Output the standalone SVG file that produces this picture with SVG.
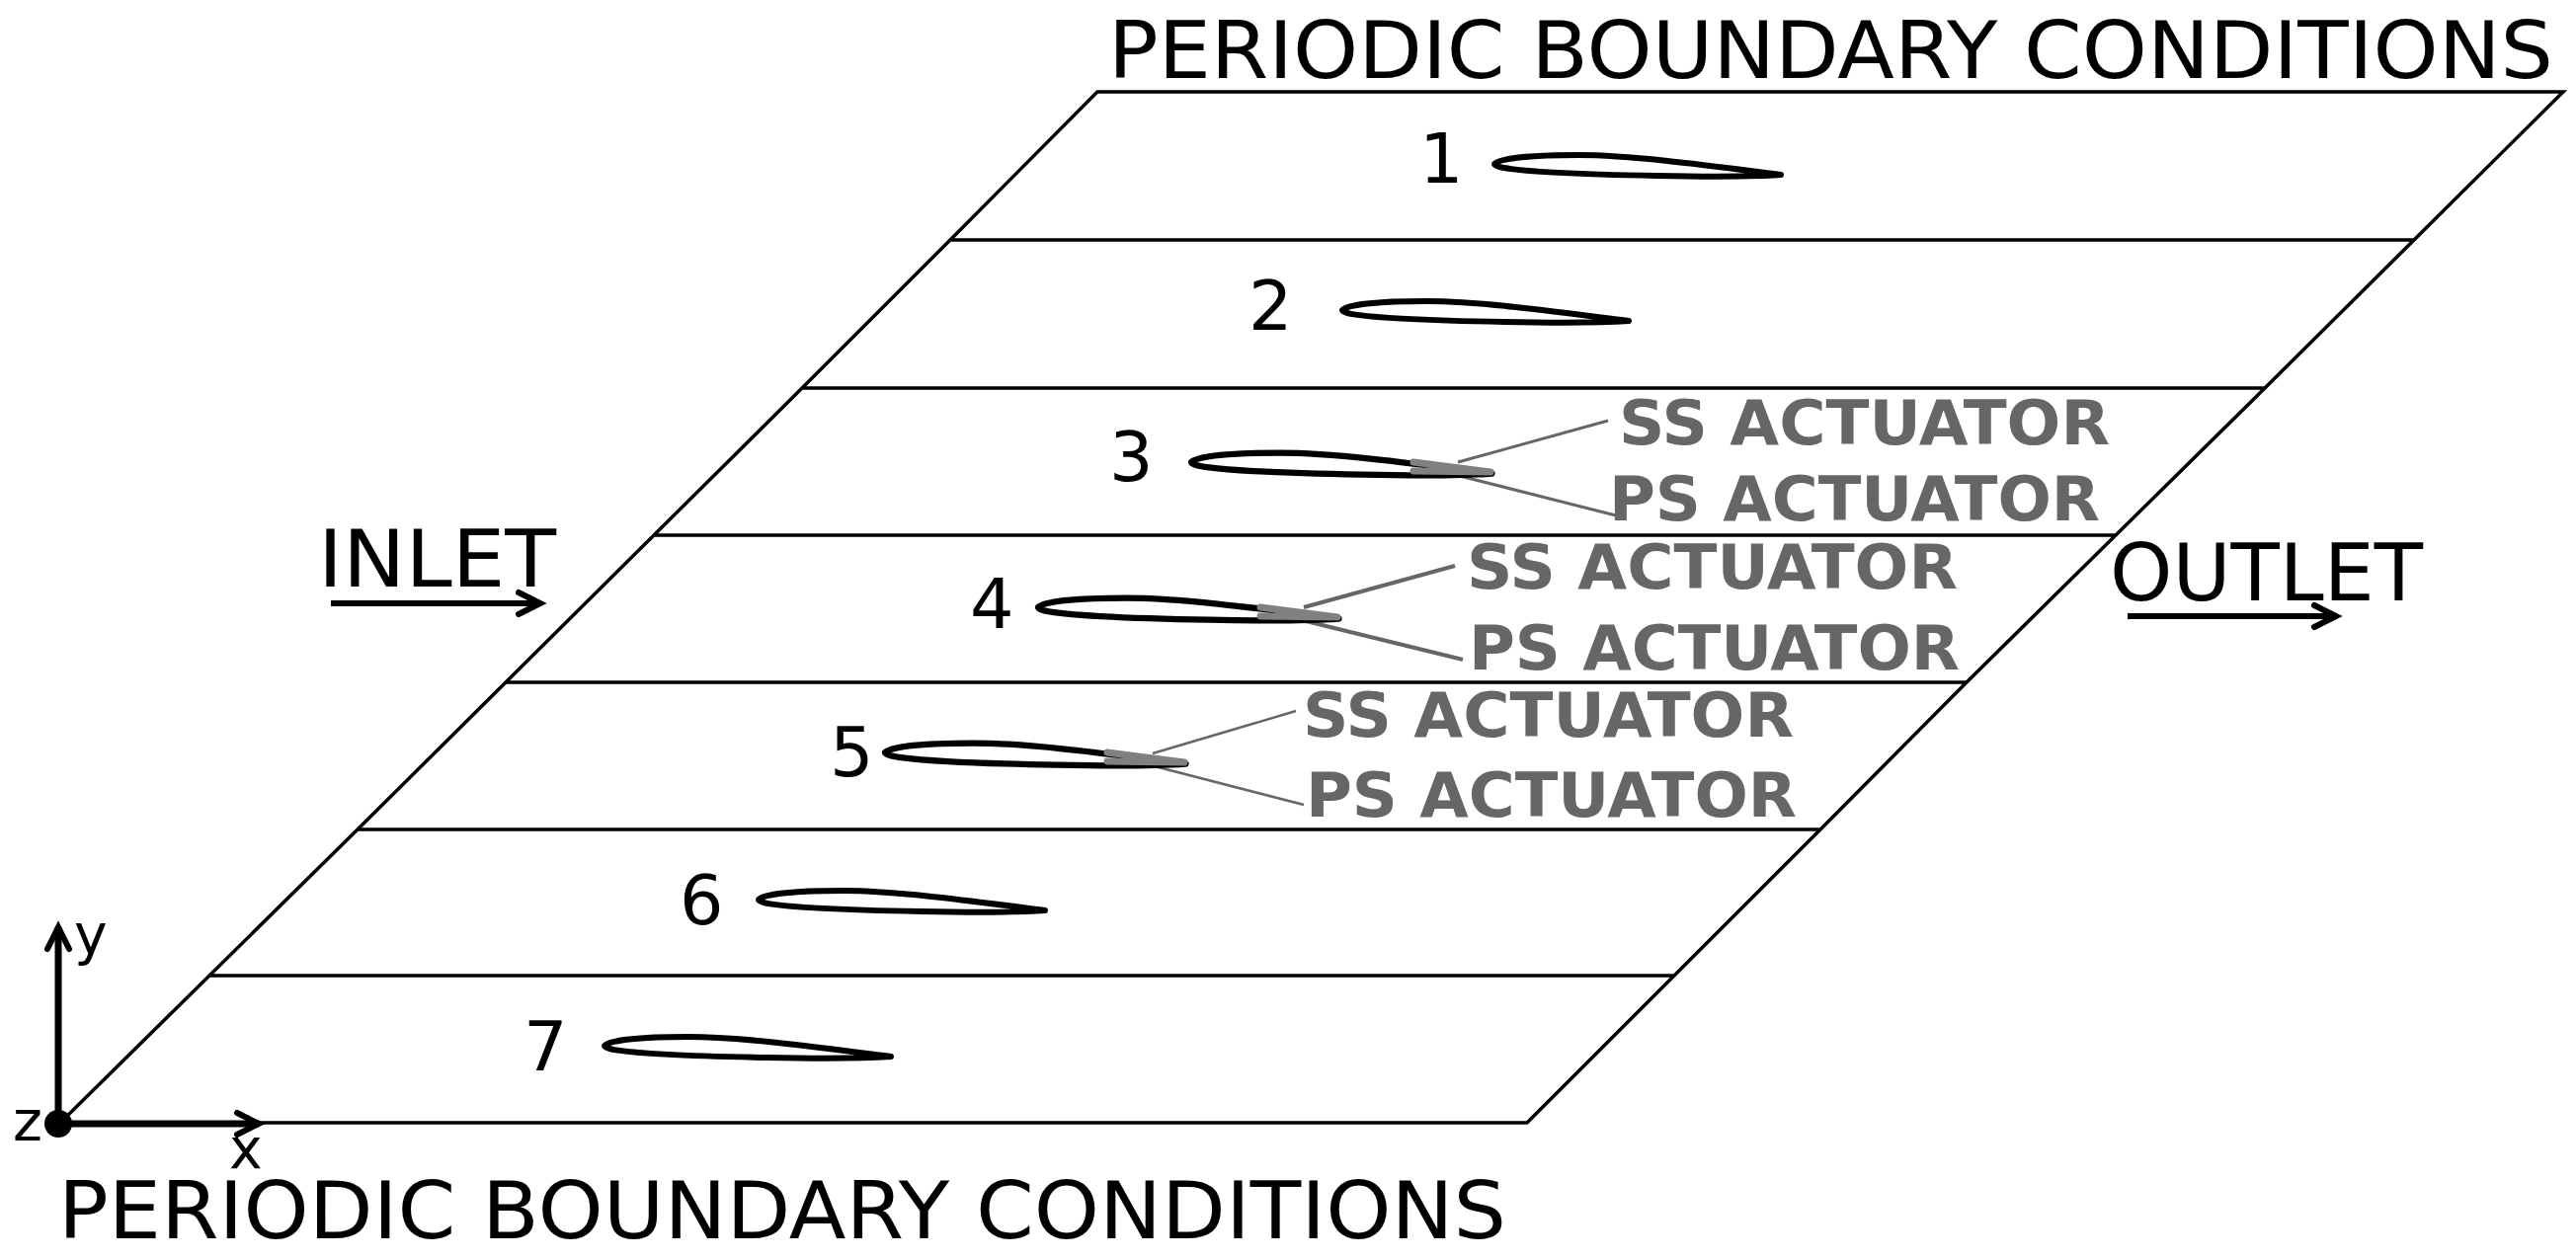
<svg xmlns="http://www.w3.org/2000/svg" width="2608" height="1275" viewBox="0 0 2608 1275">
<style>
text{font-family:"DejaVu Sans",sans-serif;fill:#000}
.t,.f{font-size:81px}.n{font-size:70px}.a{font-size:57px}
.act{font-size:63px;font-weight:bold;fill:#666}
.l{stroke:#000;stroke-width:3.5;fill:none}
.ax{stroke:#000;stroke-width:7;fill:none;marker-end:url(#h)}
.fl{stroke:#000;stroke-width:6;fill:none;marker-end:url(#h)}
.foil{stroke:#000;fill:none;stroke-width:6;stroke-linecap:round;stroke-linejoin:round}
.g{stroke:#808080;stroke-width:7;fill:none;stroke-linecap:round}
.lead{stroke:#666;fill:none}
</style>
<defs>
<marker id="h" markerUnits="userSpaceOnUse" markerWidth="40" markerHeight="40" refX="30" refY="20" orient="auto" overflow="visible"><path d="M8,9L30,20L8,31" fill="none" stroke="#000" stroke-width="6" stroke-linecap="round"/></marker>
<path id="foil" d="M0,0C6,-6 40,-9 85,-9C140,-9 220,2 290,11C260,13 210,13 165,12C105,11 0,8 0,0Z"/>
<g id="act"><path d="M225,0L303,10M225,9L303,10"/></g>
</defs>
<g id="domain">
<path class="l" d="M61,1137L212,988L362,840L512,691L662,542L812,393L962,243L1111,93H2595L2444,243L2293,393L2142,542L1991,691L1843,840L1695,988L1546,1137ZM212,988H1695M362,840H1843M512,691H1991M662,542H2142M812,393H2293M962,243H2444"/>
</g>
<g id="connectors">
<path class="lead" stroke-width="3" d="M1476,468L1628,426M1470,480L1636,522"/>
<path class="lead" stroke-width="4" d="M1320,615L1473,573M1314,627L1481,668"/>
<path class="lead" stroke-width="2.5" d="M1167,763L1312,720M1165,775L1320,815"/>
<path class="fl" d="M335,611H547"/>
<path class="fl" d="M2154,624H2365"/>
<path class="ax" d="M59,1138V939"/>
<path class="ax" d="M59,1138H262"/>
</g>
<g id="foil1"><use href="#foil" class="foil" x="1513" y="166"/><text class="n" x="1437" y="185">1</text></g>
<g id="foil2"><use href="#foil" class="foil" x="1359" y="314"/><text class="n" x="1264" y="334">2</text></g>
<g id="foil3"><use href="#foil" class="foil" transform="translate(1206 468) scale(1.05)"/><use href="#act" class="g" x="1206" y="468"/><text class="n" x="1123" y="487">3</text></g>
<g id="foil4"><use href="#foil" class="foil" transform="translate(1051 615) scale(1.05)"/><use href="#act" class="g" x="1051" y="615"/><text class="n" x="982" y="636">4</text></g>
<g id="foil5"><use href="#foil" class="foil" transform="translate(896 762) scale(1.05)"/><use href="#act" class="g" x="896" y="762"/><text class="n" x="840" y="786">5</text></g>
<g id="foil6"><use href="#foil" class="foil" x="768" y="911"/><text class="n" x="688" y="936">6</text></g>
<g id="foil7"><use href="#foil" class="foil" x="612" y="1059"/><text class="n" x="530" y="1084">7</text></g>
<g id="labels">
<text class="act" x="1639" y="450" textLength="497" lengthAdjust="spacingAndGlyphs">SS ACTUATOR</text>
<text class="act" x="1629" y="527" textLength="497" lengthAdjust="spacingAndGlyphs">PS ACTUATOR</text>
<text class="act" x="1485" y="596" textLength="497" lengthAdjust="spacingAndGlyphs">SS ACTUATOR</text>
<text class="act" x="1487" y="678" textLength="497" lengthAdjust="spacingAndGlyphs">PS ACTUATOR</text>
<text class="act" x="1319" y="746" textLength="497" lengthAdjust="spacingAndGlyphs">SS ACTUATOR</text>
<text class="act" x="1322" y="827" textLength="497" lengthAdjust="spacingAndGlyphs">PS ACTUATOR</text>
<text class="t" x="1122" y="79" textLength="1463" lengthAdjust="spacingAndGlyphs">PERIODIC BOUNDARY CONDITIONS</text>
<text class="t" x="59" y="1254" textLength="1466" lengthAdjust="spacingAndGlyphs">PERIODIC BOUNDARY CONDITIONS</text>
<text class="f" x="322" y="594" textLength="241" lengthAdjust="spacingAndGlyphs">INLET</text>
<text class="f" x="2136" y="608" textLength="317" lengthAdjust="spacingAndGlyphs">OUTLET</text>
<text class="a" x="75" y="966">y</text>
<text class="a" x="13" y="1155">z</text>
<text class="a" x="232" y="1183">x</text>
</g>
<circle id="origin" cx="59" cy="1138" r="14"/>
</svg>
